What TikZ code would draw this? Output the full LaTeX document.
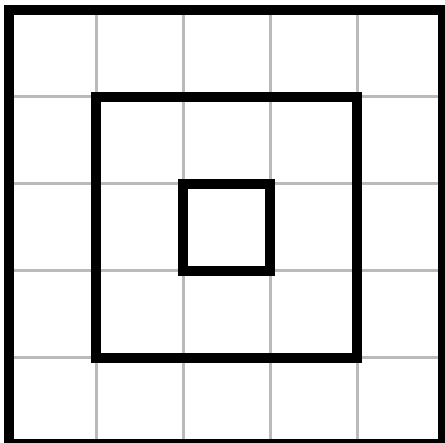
\documentclass[tikz,border=0pt]{standalone}
\begin{document}
\begin{tikzpicture}[x=1pt,y=-1pt,
  gridline/.style={draw=black!27,line width=3pt},
  sq/.style={draw=black,line width=9.5pt}]
\useasboundingbox (0,0) rectangle (445,443);
\fill[white] (0,0) rectangle (445,443);
\foreach \i in {96,183,270,357}{
  \draw[gridline] (\i,10) -- (\i,444);
  \draw[gridline] (9,\i+1) -- (443,\i+1);
}
\draw[sq] (9,10) rectangle (443,444);
\draw[sq] (96,97) rectangle (357,358);
\draw[sq] (183,184) rectangle (270,271);
\end{tikzpicture}
\end{document}
